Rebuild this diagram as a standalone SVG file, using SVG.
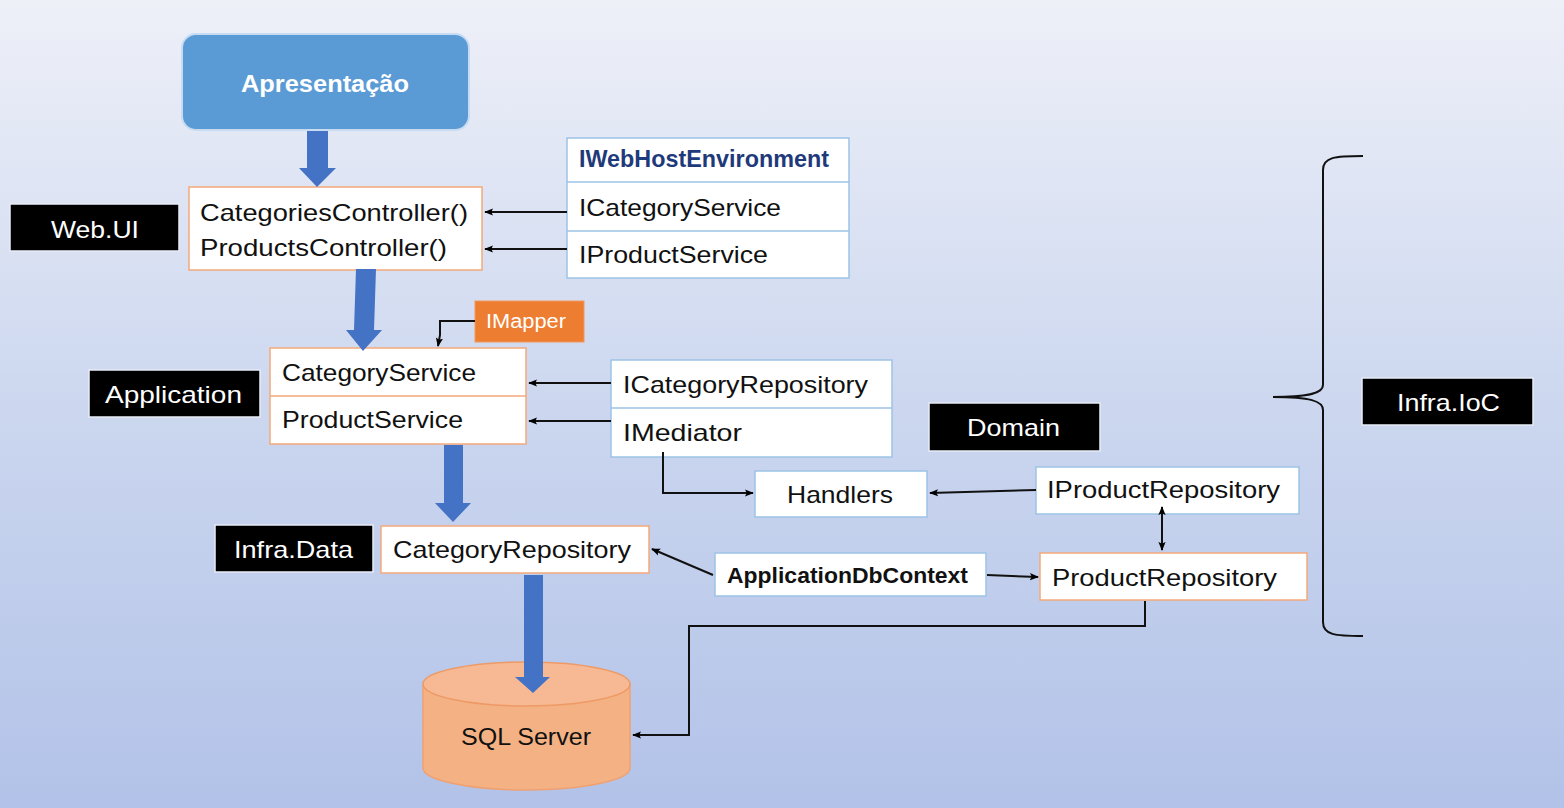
<svg xmlns="http://www.w3.org/2000/svg" width="1564" height="808" viewBox="0 0 1564 808">
<defs>
<linearGradient id="bg" x1="0" y1="0" x2="0" y2="1">
<stop offset="0" stop-color="#eef0f8"/>
<stop offset="0.5" stop-color="#ccd7ef"/>
<stop offset="1" stop-color="#b2c2e8"/>
</linearGradient>
<marker id="ah" viewBox="0 0 10 10" refX="9" refY="5" markerWidth="9" markerHeight="9" markerUnits="userSpaceOnUse" orient="auto-start-reverse">
<path d="M0,1 L10,5 L0,9 L2,5 z" fill="#000"/>
</marker>
<style>
.t{font-family:"Liberation Sans",Arial,sans-serif;font-size:24px;fill:#111}
.w{fill:#fff}
.b{font-weight:bold}
.lbl{fill:#000;stroke:#e8ecf6;stroke-width:1.5}
.ob{fill:#fff;stroke:#f4a97a;stroke-width:1.5}
.bb{fill:#fff;stroke:#9dc3e6;stroke-width:1.5}
.c{fill:none;stroke:#111;stroke-width:2}
.big{fill:#4472c4}
</style>
</defs>
<rect x="0" y="0" width="1564" height="808" fill="url(#bg)"/>

<g id="apresentacao">
<rect x="182" y="34" width="287" height="96" rx="14" fill="#5b9bd5" stroke="#c7dcf2" stroke-width="2"/>
<text class="t w b" x="241" y="92" textLength="168" lengthAdjust="spacingAndGlyphs">Apresentação</text>
</g>

<g id="webui-label">
<rect class="lbl" x="10" y="204" width="169" height="47"/>
<text class="t w" x="51" y="238" textLength="88" lengthAdjust="spacingAndGlyphs">Web.UI</text>
</g>

<g id="controllers">
<rect class="ob" x="189" y="187" width="293" height="83"/>
<text class="t" x="200" y="221" textLength="268" lengthAdjust="spacingAndGlyphs">CategoriesController()</text>
<text class="t" x="200" y="256" textLength="247" lengthAdjust="spacingAndGlyphs">ProductsController()</text>
</g>

<g id="webhost-table">
<rect class="bb" x="567" y="138" width="282" height="140"/>
<line x1="567" y1="182" x2="849" y2="182" stroke="#9dc3e6" stroke-width="1.5"/>
<line x1="567" y1="231" x2="849" y2="231" stroke="#9dc3e6" stroke-width="1.5"/>
<text class="t b" x="579" y="167" style="fill:#1f3a7a" textLength="250" lengthAdjust="spacingAndGlyphs">IWebHostEnvironment</text>
<text class="t" x="579" y="216" textLength="202" lengthAdjust="spacingAndGlyphs">ICategoryService</text>
<text class="t" x="579" y="263" textLength="189" lengthAdjust="spacingAndGlyphs">IProductService</text>
</g>

<g id="imapper">
<rect x="475" y="301" width="109" height="41" fill="#ed7d31" stroke="#f19a5e" stroke-width="1"/>
<text class="t w" x="486" y="328" style="font-size:20px" textLength="80" lengthAdjust="spacingAndGlyphs">IMapper</text>
</g>

<g id="application-label">
<rect class="lbl" x="89" y="370" width="171" height="47"/>
<text class="t w" x="105" y="403" textLength="137" lengthAdjust="spacingAndGlyphs">Application</text>
</g>

<g id="services">
<rect class="ob" x="270" y="348" width="256" height="96"/>
<line x1="270" y1="396" x2="526" y2="396" stroke="#f4a97a" stroke-width="1.5"/>
<text class="t" x="282" y="381" textLength="194" lengthAdjust="spacingAndGlyphs">CategoryService</text>
<text class="t" x="282" y="428" textLength="181" lengthAdjust="spacingAndGlyphs">ProductService</text>
</g>

<g id="repo-mediator-table">
<rect class="bb" x="611" y="360" width="281" height="97"/>
<line x1="611" y1="408" x2="892" y2="408" stroke="#9dc3e6" stroke-width="1.5"/>
<text class="t" x="623" y="393" textLength="245" lengthAdjust="spacingAndGlyphs">ICategoryRepository</text>
<text class="t" x="623" y="441" textLength="119" lengthAdjust="spacingAndGlyphs">IMediator</text>
</g>

<g id="domain-label">
<rect class="lbl" x="929" y="403" width="171" height="48"/>
<text class="t w" x="967" y="436" textLength="93" lengthAdjust="spacingAndGlyphs">Domain</text>
</g>

<g id="handlers">
<rect class="bb" x="755" y="471" width="172" height="46"/>
<text class="t" x="787" y="503" textLength="106" lengthAdjust="spacingAndGlyphs">Handlers</text>
</g>

<g id="iproductrepository">
<rect class="bb" x="1036" y="467" width="263" height="47"/>
<text class="t" x="1047" y="498" textLength="233" lengthAdjust="spacingAndGlyphs">IProductRepository</text>
</g>

<g id="infradata-label">
<rect class="lbl" x="215" y="525" width="158" height="47"/>
<text class="t w" x="234" y="558" textLength="119" lengthAdjust="spacingAndGlyphs">Infra.Data</text>
</g>

<g id="categoryrepository">
<rect class="ob" x="381" y="526" width="268" height="47"/>
<text class="t" x="393" y="558" textLength="238" lengthAdjust="spacingAndGlyphs">CategoryRepository</text>
</g>

<g id="applicationdbcontext">
<rect class="bb" x="715" y="553" width="271" height="43"/>
<text class="t b" x="727" y="583" style="font-size:22px" textLength="241" lengthAdjust="spacingAndGlyphs">ApplicationDbContext</text>
</g>

<g id="productrepository">
<rect class="ob" x="1040" y="553" width="267" height="47"/>
<text class="t" x="1052" y="586" textLength="225" lengthAdjust="spacingAndGlyphs">ProductRepository</text>
</g>

<g id="sqlserver">
<path d="M423,684 L423,768 A103.5,22 0 0 0 630,768 L630,684" fill="#f4b183" stroke="#f0a070" stroke-width="1.5"/>
<ellipse cx="526.5" cy="684" rx="103.5" ry="22" fill="#f6b994" stroke="#ee9a66" stroke-width="1.5"/>
<text class="t" x="461" y="745" textLength="130" lengthAdjust="spacingAndGlyphs">SQL Server</text>
</g>

<g id="infraioc-label">
<rect class="lbl" x="1362" y="378" width="171" height="47"/>
<text class="t w" x="1397" y="411" textLength="103" lengthAdjust="spacingAndGlyphs">Infra.IoC</text>
</g>

<g id="connectors">
<polygon class="big" points="307,131 328,131 328,168 336,168 317,187 299,168 307,168"/>
<polygon class="big" points="356,269 376,269 374,330 382,330 363,351 346,330 354,330"/>
<polygon class="big" points="444,445 463,445 463,503 471,503 453,522 435,503 444,503"/>
<polygon class="big" points="524,575 543,575 543,677 550,677 533,693 515,677 524,677"/>

<line class="c" x1="567" y1="212" x2="485" y2="212" marker-end="url(#ah)"/>
<line class="c" x1="567" y1="249" x2="485" y2="249" marker-end="url(#ah)"/>
<polyline class="c" points="475,321 440,321 440,335 438,346" marker-end="url(#ah)"/>
<line class="c" x1="611" y1="383" x2="529" y2="383" marker-end="url(#ah)"/>
<line class="c" x1="611" y1="421" x2="529" y2="421" marker-end="url(#ah)"/>
<polyline class="c" points="663,452 663,493 753,493" marker-end="url(#ah)"/>
<line class="c" x1="1036" y1="490" x2="930" y2="493" marker-end="url(#ah)"/>
<line class="c" x1="1162" y1="507" x2="1162" y2="550" marker-start="url(#ah)" marker-end="url(#ah)"/>
<line class="c" x1="987" y1="575" x2="1038" y2="577" marker-end="url(#ah)"/>
<line class="c" x1="713" y1="575" x2="652" y2="549" marker-end="url(#ah)"/>
<polyline class="c" points="1145,601 1145,626 689,626 689,735 633,735" marker-end="url(#ah)"/>
<path class="c" d="M1363,156 C1335,156 1323,157 1323,170 L1323,385 C1323,393 1310,397 1273,397 C1310,397 1323,401 1323,410 L1323,622 C1323,635 1335,636 1363,636"/>
</g>
</svg>
